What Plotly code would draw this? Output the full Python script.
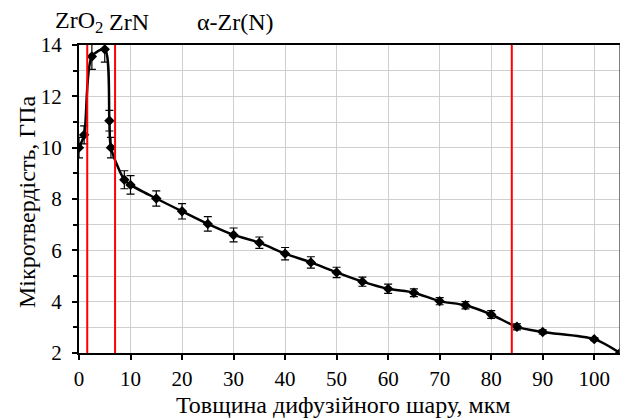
import plotly.graph_objects as go

depth = [0, 1, 2.5, 5, 5.9, 6.2, 8.8, 10, 15, 20, 25, 30, 35, 40, 45, 50, 55, 60, 65, 70, 75, 80, 85, 90, 100, 105]
hardness = [10.0, 10.5, 13.55, 13.83, 11.05, 10.0, 8.75, 8.55, 8.02, 7.52, 7.03, 6.6, 6.3, 5.87, 5.53, 5.14, 4.78, 4.5, 4.35, 4.02, 3.86, 3.5, 3.02, 2.82, 2.54, 2.0]
errors = [0.4, 0.35, 0.5, 0.5, 0.4, 0.4, 0.35, 0.36, 0.3, 0.3, 0.28, 0.27, 0.22, 0.24, 0.22, 0.2, 0.18, 0.18, 0.15, 0.14, 0.14, 0.15, 0.12, 0.08, 0.06, 0.04]
boundaries = [1.6, 7.0, 84.0]
phase_labels = ["ZrO<sub>2</sub>", "ZrN", "α-Zr(N)"]
phase_label_px = [53, 107, 195]
x_title = "Товщина дифузійного шару, мкм"
y_title = "Мікротвердість, ГПа"

FONT = "Liberation Serif, Times New Roman, serif"
W, H = 626, 419
ML, MR, MT, MB = 79, 6, 45, 66
PW, PH = W - ML - MR, H - MT - MB


def px_x(px):
    return (px - ML) / PW


def px_y(py):
    return (H - MB - py) / PH


fig = go.Figure()
fig.add_trace(go.Scatter(
    x=depth, y=hardness, mode="lines+markers",
    line=dict(color="black", width=2.5, shape="spline", smoothing=0.8),
    marker=dict(symbol="diamond", size=8, color="black"),
    error_y=dict(type="data", array=errors, visible=True, color="black", thickness=1.2, width=4),
    showlegend=False, cliponaxis=True,
))

for b in boundaries:
    fig.add_shape(type="line", x0=b, x1=b, y0=2, y1=14, xref="x", yref="y",
                  line=dict(color="red", width=2))
fig.add_shape(type="line", x0=105, x1=105, y0=2, y1=14, xref="x", yref="y",
              line=dict(color="#555555", width=1.5))

for lbl, px in zip(phase_labels, phase_label_px):
    fig.add_annotation(x=px_x(px), y=px_y(22), xref="paper", yref="paper", text=lbl,
                       showarrow=False, xanchor="left", yanchor="middle",
                       font=dict(family=FONT, size=24, color="black"))

fig.add_annotation(x=px_x(343), y=px_y(405), xref="paper", yref="paper", text=x_title,
                   showarrow=False, xanchor="center", yanchor="middle",
                   font=dict(family=FONT, size=24, color="black"))
fig.add_annotation(x=px_x(27), y=px_y(202), xref="paper", yref="paper", text=y_title,
                   showarrow=False, xanchor="center", yanchor="middle", textangle=-90,
                   font=dict(family=FONT, size=24, color="black"))

fig.update_layout(
    width=W, height=H,
    margin=dict(l=ML, r=MR, t=MT, b=MB, autoexpand=False),
    paper_bgcolor="white", plot_bgcolor="white",
    font=dict(family=FONT, size=21, color="black"),
    xaxis=dict(
        range=[0, 105], dtick=10, tick0=0, automargin=False,
        showgrid=True, gridcolor="#cfcfcf", gridwidth=1,
        showline=True, linecolor="black", linewidth=2, mirror=True,
        ticks="outside", ticklen=5, tickwidth=1.5, tickcolor="black",
        zeroline=False, ticklabelstandoff=1,
        tickfont=dict(family=FONT, size=21),
    ),
    yaxis=dict(
        range=[2, 14], dtick=2, tick0=2, automargin=False,
        showgrid=True, gridcolor="#cfcfcf", gridwidth=1,
        minor=dict(dtick=1, showgrid=True, gridcolor="#cfcfcf", ticks="outside", ticklen=4, tickcolor="black"),
        showline=True, linecolor="black", linewidth=2,
        ticks="outside", ticklen=5, tickwidth=1.5, tickcolor="black",
        zeroline=False, ticklabelstandoff=6,
        tickfont=dict(family=FONT, size=21),
    ),
)

fig.write_html("out.html", config={"displayModeBar": False},
               post_script="document.body.style.margin='0';document.body.style.padding='0';")
